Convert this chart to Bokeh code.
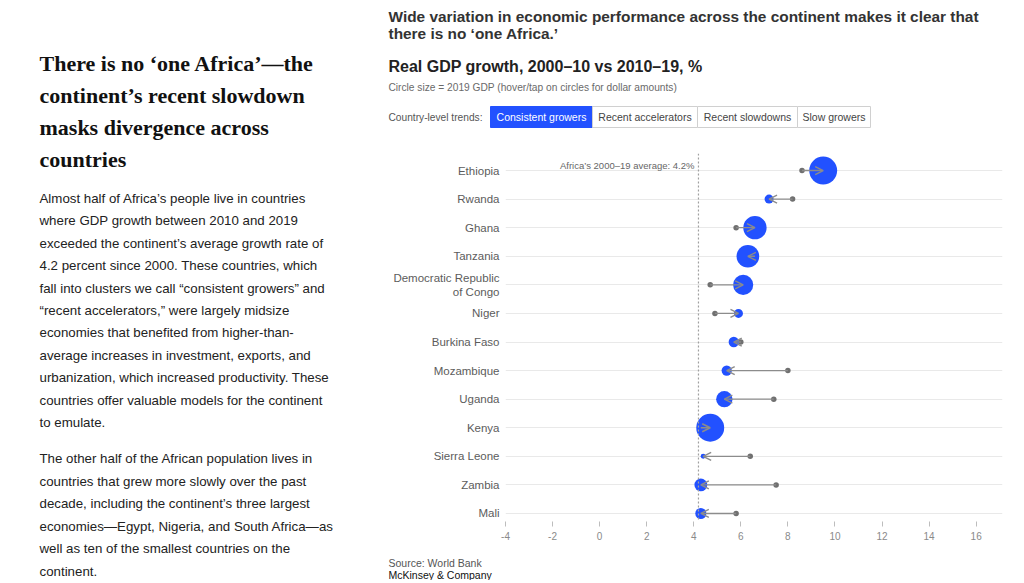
from bokeh.plotting import figure
from bokeh.layouts import row, column
from bokeh.models import (ColumnDataSource, Range1d, FixedTicker, Span, Label,
                          Arrow, OpenHead, BoxAnnotation)
from bokeh.embed import file_html
from bokeh.resources import INLINE

# ---------------- data ----------------
countries = ["Ethiopia", "Rwanda", "Ghana", "Tanzania",
             "Democratic Republic\nof Congo", "Niger", "Burkina Faso",
             "Mozambique", "Uganda", "Kenya", "Sierra Leone", "Zambia", "Mali"]
growth_2000_10 = [8.6, 8.2, 5.8, 6.6, 4.7, 4.9, 6.0, 8.0, 7.4, 4.3, 6.4, 7.5, 5.8]
growth_2010_19 = [9.5, 7.2, 6.6, 6.3, 6.1, 5.9, 5.7, 5.4, 5.3, 4.7, 4.4, 4.3, 4.3]
gdp_2019_bn = [96, 10, 67, 63, 50, 10, 13, 13, 33, 96, 3, 20, 15]
africa_avg = 4.2
x_ticks = [-4, -2, 0, 2, 4, 6, 8, 10, 12, 14, 16]
trend_buttons = ["Consistent growers", "Recent accelerators",
                 "Recent slowdowns", "Slow growers"]

title_lines = ["Wide variation in economic performance across the continent makes it clear that",
               "there is no \u2018one Africa.\u2019"]
subtitle = "Real GDP growth, 2000\u201310 vs 2010\u201319, %"
note = "Circle size = 2019 GDP (hover/tap on circles for dollar amounts)"
heading_lines = ["There is no \u2018one Africa\u2019\u2014the",
                 "continent\u2019s recent slowdown",
                 "masks divergence across",
                 "countries"]
para1 = ["Almost half of Africa\u2019s people live in countries",
         "where GDP growth between 2010 and 2019",
         "exceeded the continent\u2019s average growth rate of",
         "4.2 percent since 2000. These countries, which",
         "fall into clusters we call \u201cconsistent growers\u201d and",
         "\u201crecent accelerators,\u201d were largely midsize",
         "economies that benefited from higher-than-",
         "average increases in investment, exports, and",
         "urbanization, which increased productivity. These",
         "countries offer valuable models for the continent",
         "to emulate."]
para2 = ["The other half of the African population lives in",
         "countries that grew more slowly over the past",
         "decade, including the continent\u2019s three largest",
         "economies\u2014Egypt, Nigeria, and South Africa\u2014as",
         "well as ten of the smallest countries on the",
         "continent."]

SANS = "Liberation Sans"


def text_fig(x0, x1, y0, y1):
    f = figure(width=x1 - x0, height=y1 - y0, output_backend="svg",
               toolbar_location=None, x_range=Range1d(x0, x1),
               y_range=Range1d(y1, y0), x_axis_location=None,
               y_axis_location=None, min_border=0, frame_align=False)
    f.outline_line_color = None
    f.xgrid.visible = False
    f.ygrid.visible = False
    return f


def lab(f, text, x, y, size, color, font=SANS, style="normal", align="left"):
    f.add_layout(Label(x=x, y=y, text=text, text_align=align,
                       text_baseline="middle", text_font=font,
                       text_font_size=size, text_font_style=style,
                       text_color=color))


# ---------------- left column ----------------
left = text_fig(0, 380, 0, 580)
for i, t in enumerate(heading_lines):
    lab(left, t, 39, 63 + 32 * i, "22px", "#111111", font="Liberation Serif", style="bold")
for i, t in enumerate(para1):
    lab(left, t, 39, 198 + 22.4 * i, "13.3px", "#222222")
for i, t in enumerate(para2):
    lab(left, t, 39, 458 + 22.6 * i, "13.3px", "#222222")

# ---------------- header ----------------
head = text_fig(380, 1010, 0, 150)
for i, t in enumerate(title_lines):
    lab(head, t, 388, 16 + 17 * i, "15.4px", "#333333", style="bold")
lab(head, subtitle, 388, 66, "16px", "#222222", style="bold")
lab(head, note, 388, 87, "10.2px", "#6a6a6a")
lab(head, "Country-level trends:", 388, 117, "10.2px", "#555555")
edges = [490, 592, 697, 797, 870]
for i, b in enumerate(trend_buttons):
    active = i == 0
    head.add_layout(BoxAnnotation(left=edges[i], right=edges[i + 1], top=106, bottom=127,
                                  fill_color="#2251ff" if active else "white", fill_alpha=1,
                                  line_color="#2251ff" if active else "#d0d0d0",
                                  line_alpha=1, line_width=1))
for i, b in enumerate(trend_buttons):
    active = i == 0
    lab(head, b, (edges[i] + edges[i + 1]) / 2, 116.5, "10.5px",
        "white" if active else "#444444", align="center")

# ---------------- chart ----------------
CW, CH = 630, 397
FL, FR, FT, FB = 125, 8, 3, 26
X0, X1 = -4, 17.12
Y0, Y1 = -0.28, 12.595

n = len(countries)
src = ColumnDataSource(dict(
    y=[n - 1 - i for i in range(n)],
    x0=growth_2000_10,
    x1=growth_2010_19,
    size=[2.85 * g ** 0.5 for g in gdp_2019_bn],
))

p = figure(width=CW, height=CH, output_backend="svg", toolbar_location=None,
           x_range=Range1d(X0, X1), y_range=Range1d(Y0, Y1),
           min_border_left=FL, min_border_right=FR,
           min_border_top=FT, min_border_bottom=FB, frame_align=False)
p.outline_line_color = None

yt = FixedTicker(ticks=list(range(n)))
p.yaxis.ticker = yt
p.ygrid.ticker = yt
p.yaxis.major_label_overrides = {n - 1 - i: c for i, c in enumerate(countries)}
p.yaxis.axis_line_color = None
p.yaxis.major_tick_line_color = None
p.yaxis.minor_tick_line_color = None
p.yaxis.major_label_standoff = 0
p.yaxis.major_label_text_font = SANS
p.yaxis.major_label_text_font_size = "11.5px"
p.yaxis.major_label_text_color = "#5c5c5c"

xt = FixedTicker(ticks=x_ticks)
p.xaxis.ticker = xt
p.xaxis.major_label_overrides = {t: str(t) for t in x_ticks}
p.xaxis.axis_line_color = None
p.xaxis.major_tick_in = 0
p.xaxis.major_tick_out = 5
p.xaxis.major_tick_line_color = "#bdbdbd"
p.xaxis.minor_tick_line_color = None
p.xaxis.major_label_standoff = 5
p.xaxis.major_label_text_font = SANS
p.xaxis.major_label_text_font_size = "10px"
p.xaxis.major_label_text_color = "#8a8a8a"

p.xgrid.grid_line_color = None
p.ygrid.grid_line_color = "#e9e9e9"
p.ygrid.grid_line_width = 1

p.scatter("x0", "y", source=src, size=5.5, fill_color="#707070", line_color=None)
p.scatter("x1", "y", source=src, size="size", fill_color="#2251ff", line_color=None)
p.add_layout(Arrow(end=OpenHead(size=8, line_color="#8c8c8c", line_width=1.4),
                   x_start="x0", y_start="y", x_end="x1", y_end="y", source=src,
                   line_color="#8c8c8c", line_width=1.4))
p.add_layout(Span(location=africa_avg, dimension="height", line_color="#a0a0a0",
                  line_dash="2 2", line_width=1.2))
p.add_layout(Label(x=africa_avg, y=n - 1, x_offset=-4, y_offset=5,
                   text=f"Africa\u2019s 2000\u201319 average: {africa_avg}%",
                   text_align="right", text_baseline="middle",
                   text_font=SANS, text_font_size="9.5px", text_color="#666666"))

# ---------------- footer ----------------
foot = text_fig(380, 1010, 547, 580)
lab(foot, "Source: World Bank", 388, 562, "10.5px", "#555555")
lab(foot, "McKinsey & Company", 388, 574, "10.5px", "#111111")

layout = row(left, column(head, p, foot, spacing=0), spacing=0)

open("out.html", "w").write(file_html(layout, INLINE))
